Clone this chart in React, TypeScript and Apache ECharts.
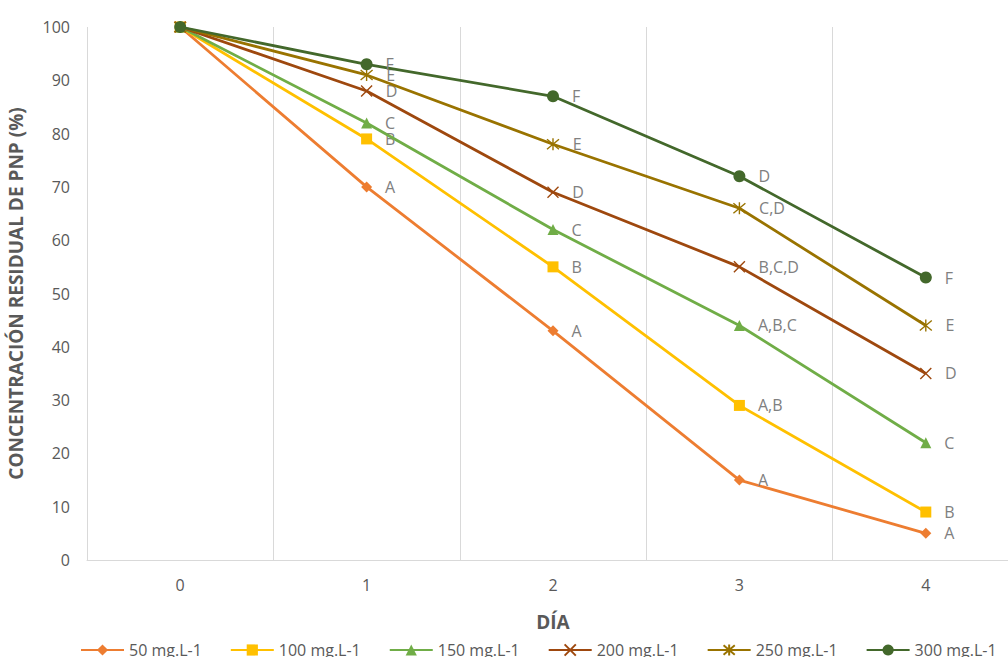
import React, { useEffect, useRef } from "react";
import * as echarts from "echarts";

const days = ["0", "1", "2", "3", "4"];
const seriesNames = ["50 mg.L-1", "100 mg.L-1", "150 mg.L-1", "200 mg.L-1", "250 mg.L-1", "300 mg.L-1"];
const s50 = [100, 70, 43, 15, 5];
const s100 = [100, 79, 55, 29, 9];
const s150 = [100, 82, 62, 44, 22];
const s200 = [100, 88, 69, 55, 35];
const s250 = [100, 91, 78, 66, 44];
const s300 = [100, 93, 87, 72, 53];
const l50 = ["", "A", "A", "A", "A"];
const l100 = ["", "B", "B", "A,B", "B"];
const l150 = ["", "C", "C", "A,B,C", "C"];
const l200 = ["", "D", "D", "B,C,D", "D"];
const l250 = ["", "E", "E", "C,D", "E"];
const l300 = ["", "F", "F", "D", "F"];

const colors = ["#ED7D31", "#FFC000", "#70AD47", "#9E480E", "#997300", "#43682B"];
const CROSS = "path://M0,0L10,10M10,0L0,10";
const STAR = "path://M0,0L10,10M10,0L0,10M5,-1L5,11";
const FONT = "'Open Sans', Lato, sans-serif";

export default function App() {
  const ref = useRef<HTMLDivElement>(null);
  useEffect(() => {
    if (!ref.current) return;
    const chart = echarts.init(ref.current, null, { renderer: "svg" });
    const values = [s50, s100, s150, s200, s250, s300];
    const letters = [l50, l100, l150, l200, l250, l300];
    const symbols = ["diamond", "rect", "triangle", CROSS, STAR, "circle"];
    const sizes = [11, 11, 11, 11, 12, 12];
    const series = values.map((v, i) => {
      const outline = i === 3 || i === 4;
      return {
        name: seriesNames[i],
        type: "line",
        data: v,
        symbol: symbols[i],
        symbolSize: sizes[i],
        showAllSymbol: true,
        lineStyle: { color: colors[i], width: 2.8 },
        itemStyle: outline
          ? { color: "rgba(0,0,0,0)", borderColor: colors[i], borderWidth: 1.4 }
          : { color: colors[i], borderWidth: 0 },
        label: {
          show: true,
          position: "right",
          distance: 13,
          fontSize: 16,
          fontFamily: FONT,
          color: "#808080",
          formatter: (p: any) => letters[i][p.dataIndex],
        },
        labelLayout: { hideOverlap: false },
        z: 2 + i,
      };
    });
    chart.setOption({
      animation: false,
      backgroundColor: "#ffffff",
      textStyle: { fontFamily: FONT },
      grid: { left: 87, right: -11, top: 27, bottom: 97, containLabel: false, outerBoundsMode: "none" },
      legend: {
        data: seriesNames,
        left: 75,
        top: 637,
        itemWidth: 43,
        itemHeight: 14,
        itemGap: 28,
        textStyle: { fontSize: 16, color: "#595959", fontFamily: FONT },
      },
      xAxis: {
        type: "category",
        data: days,
        boundaryGap: true,
        name: "DÍA",
        nameLocation: "middle",
        nameGap: 52,
        nameTextStyle: { fontSize: 19, fontWeight: "bold", color: "#595959", fontFamily: FONT },
        axisLine: { show: true, lineStyle: { color: "#d9d9d9", width: 1 } },
        axisTick: { show: false },
        axisLabel: { fontSize: 16, color: "#595959", margin: 17, fontFamily: FONT },
        splitLine: { show: true, lineStyle: { color: "#d9d9d9", width: 1 } },
      },
      yAxis: {
        type: "value",
        min: 0,
        max: 100,
        interval: 10,
        name: "CONCENTRACIÓN RESIDUAL DE PNP (%)",
        nameLocation: "middle",
        nameGap: 62,
        nameTextStyle: { fontSize: 19, fontWeight: "bold", color: "#595959", fontFamily: FONT },
        axisLine: { show: false },
        axisTick: { show: false },
        axisLabel: { fontSize: 16, color: "#595959", margin: 17, fontFamily: FONT },
        splitLine: { show: false },
      },
      series,
    });
    return () => chart.dispose();
  }, []);
  return <div ref={ref} style={{ width: 1008, height: 657, position: "absolute", left: 0, top: 0 }} />;
}
